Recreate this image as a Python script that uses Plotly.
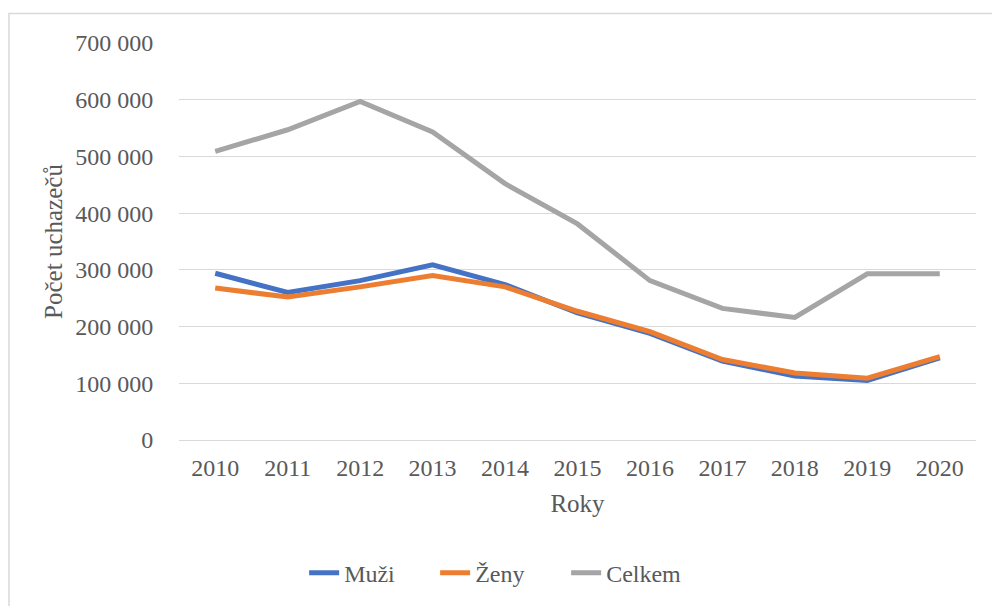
import plotly.graph_objects as go

years = ["2010", "2011", "2012", "2013", "2014", "2015", "2016", "2017", "2018", "2019", "2020"]
muzi = [294000, 260000, 281000, 309000, 274000, 224000, 188000, 139000, 113000, 105000, 145000]
zeny = [268000, 252000, 270000, 290000, 270000, 227000, 191000, 142000, 118000, 109000, 147000]
celkem = [509000, 547000, 597000, 543000, 452000, 381000, 281000, 232000, 216000, 293000, 293000]

FONT = "Liberation Serif, Times New Roman, serif"
GREY_TXT = "#595959"
GRID = "#d9d9d9"

fig = go.Figure()
for name, vals, col in [("Muži", muzi, "#4472C4"), ("Ženy", zeny, "#ED7D31"), ("Celkem", celkem, "#A5A5A5")]:
    fig.add_trace(go.Scatter(x=years, y=vals, name=name, mode="lines",
                             line=dict(color=col, width=5)))

fig.update_layout(
    width=992, height=606,
    margin=dict(l=179, r=16, t=43, b=165, pad=0),
    paper_bgcolor="white", plot_bgcolor="white",
    separators=". ",
    font=dict(family=FONT, size=24, color=GREY_TXT),
    showlegend=True,
    legend=dict(orientation="h", x=0.157, xanchor="left", y=-0.332, yanchor="middle",
                font=dict(family=FONT, size=24, color=GREY_TXT),
                entrywidth=86, entrywidthmode="pixels", itemwidth=30,
                bgcolor="rgba(0,0,0,0)"),
    xaxis=dict(type="category", range=[-0.5, 10.5], showgrid=False, showline=False,
               zeroline=False, ticks="outside", ticklen=6, tickcolor="rgba(0,0,0,0)",
               tickfont=dict(family=FONT, size=24, color=GREY_TXT),
               title=dict(text="Roky", font=dict(family=FONT, size=25, color=GREY_TXT), standoff=14)),
    yaxis=dict(range=[0, 700000], dtick=100000, tickformat=",d", showgrid=True,
               gridcolor=GRID, gridwidth=1.3, zeroline=True, zerolinecolor=GRID, zerolinewidth=1.3,
               showline=False, ticks="outside", ticklen=20, tickcolor="rgba(0,0,0,0)",
               tickfont=dict(family=FONT, size=24, color=GREY_TXT),
               title=dict(text="Počet uchazečů", font=dict(family=FONT, size=25, color=GREY_TXT), standoff=5)),
    shapes=[dict(type="rect", xref="paper", yref="paper",
                 x0=-0.2133, x1=1.05, y0=-0.5, y1=1.074,
                 line=dict(color=GRID, width=1.5), fillcolor="rgba(0,0,0,0)", layer="below")],
)

fig.write_html("out.html", config={"displayModeBar": False},
               post_script="document.body.style.margin='0';document.body.style.overflow='hidden';")
